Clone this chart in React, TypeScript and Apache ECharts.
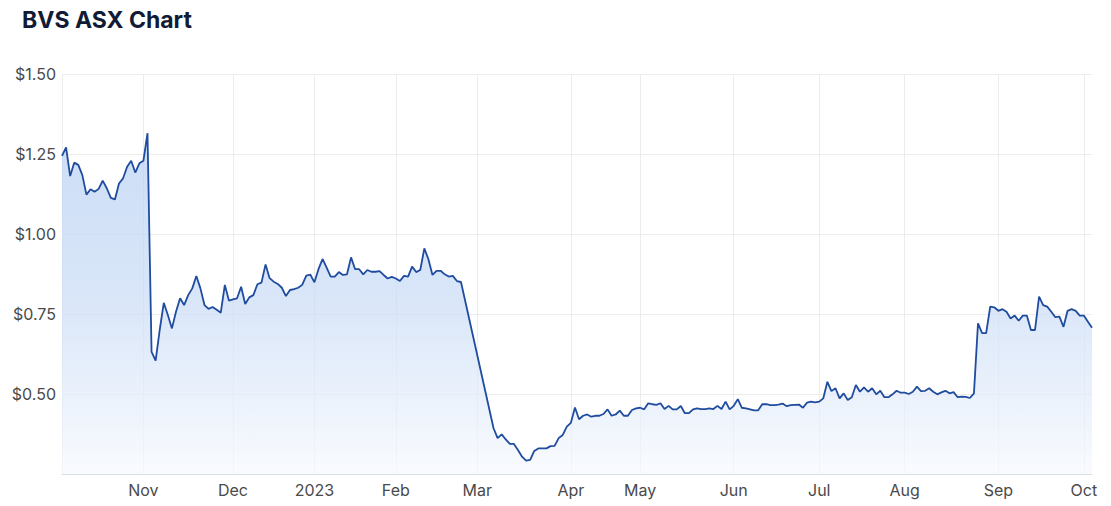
import React, { useEffect, useRef } from "react";
import * as echarts from "echarts";

// Trading days (ASX) shown on the ordinal x axis
const tradingDays: [string, number[]][] = [
  ["2022-10", [4, 5, 6, 7, 10, 11, 12, 13, 14, 17, 18, 19, 20, 21, 24, 25, 26, 27, 28, 31]],
  ["2022-11", [1, 2, 3, 4, 7, 8, 9, 10, 11, 14, 15, 16, 17, 18, 21, 22, 23, 24, 25, 28, 29, 30]],
  ["2022-12", [1, 2, 5, 6, 7, 8, 9, 12, 13, 14, 15, 16, 19, 20, 21, 22, 23, 28, 29, 30]],
  ["2023-01", [3, 4, 5, 6, 9, 10, 11, 12, 13, 16, 17, 18, 19, 20, 23, 24, 25, 27, 30, 31]],
  ["2023-02", [1, 2, 3, 6, 7, 8, 9, 10, 13, 14, 15, 16, 17, 20, 21, 22, 23, 24, 27, 28]],
  ["2023-03", [1, 2, 3, 6, 7, 8, 9, 10, 13, 14, 15, 16, 17, 20, 21, 22, 23, 24, 27, 28, 29, 30, 31]],
  ["2023-04", [3, 4, 5, 6, 11, 12, 13, 14, 17, 18, 19, 20, 21, 24, 26, 27, 28]],
  ["2023-05", [1, 2, 3, 4, 5, 8, 9, 10, 11, 12, 15, 16, 17, 18, 19, 22, 23, 24, 25, 26, 29, 30, 31]],
  ["2023-06", [1, 2, 5, 6, 7, 8, 9, 13, 14, 15, 16, 19, 20, 21, 22, 23, 26, 27, 28, 29, 30]],
  ["2023-07", [3, 4, 5, 6, 7, 10, 11, 12, 13, 14, 17, 18, 19, 20, 21, 24, 25, 26, 27, 28, 31]],
  ["2023-08", [1, 2, 3, 4, 7, 8, 9, 10, 11, 14, 15, 16, 17, 18, 21, 22, 23, 24, 25, 28, 29, 30, 31]],
  ["2023-09", [1, 4, 5, 6, 7, 8, 11, 12, 13, 14, 15, 18, 19, 20, 21, 22, 25, 26, 27, 28, 29]],
  ["2023-10", [2, 3, 4]],
];

// Closing prices (A$), per month; null = trading halt
const oct22 = [1.244, 1.271, 1.181, 1.223, 1.216, 1.184, 1.123, 1.14, 1.132, 1.141, 1.167, 1.143, 1.113, 1.108, 1.158, 1.174, 1.21, 1.229, 1.192, 1.221];
const nov22 = [1.229, 1.315, 0.632, 0.604, 0.7, 0.785, 0.747, 0.705, 0.757, 0.799, 0.778, 0.809, 0.83, 0.869, 0.83, 0.778, 0.766, 0.772, 0.763, 0.754, 0.841, 0.792];
const dec22 = [0.796, 0.799, 0.835, 0.781, 0.802, 0.809, 0.843, 0.848, 0.905, 0.862, 0.851, 0.844, 0.832, 0.806, 0.825, 0.828, 0.832, 0.841, 0.87, 0.873];
const jan23 = [0.849, 0.89, 0.922, 0.895, 0.867, 0.867, 0.881, 0.872, 0.874, 0.927, 0.89, 0.89, 0.874, 0.8875, 0.882, 0.882, 0.884, 0.872, 0.861, 0.866];
const feb23 = [0.861, 0.853, 0.869, 0.867, 0.898, 0.881, 0.8875, 0.955, 0.921, 0.872, 0.885, 0.885, 0.874, 0.867, 0.869, 0.853, 0.85, null, null, null];
const mar23 = [null, null, null, null, 0.393, 0.362, 0.374, 0.358, 0.344, 0.344, 0.325, 0.304, 0.292, 0.294, 0.322, 0.33, 0.33, 0.33, 0.337, 0.338, 0.362, 0.372, 0.398];
const apr23 = [0.41, 0.458, 0.421, 0.432, 0.436, 0.429, 0.432, 0.432, 0.4375, 0.452, 0.432, 0.436, 0.448, 0.432, 0.432, 0.45, 0.455];
const may23 = [0.457, 0.452, 0.471, 0.468, 0.466, 0.471, 0.453, 0.463, 0.452, 0.452, 0.4625, 0.44, 0.44, 0.452, 0.455, 0.453, 0.453, 0.455, 0.453, 0.463, 0.453, 0.476, 0.452];
const jun23 = [0.463, 0.484, 0.457, 0.455, 0.452, 0.449, 0.449, 0.468, 0.468, 0.465, 0.465, 0.467, 0.47, 0.462, 0.465, 0.466, 0.467, 0.457, 0.473, 0.476, 0.474];
const jul23 = [0.476, 0.4865, 0.538, 0.509, 0.518, 0.4865, 0.502, 0.481, 0.49, 0.528, 0.507, 0.521, 0.507, 0.518, 0.499, 0.51, 0.49, 0.49, 0.499, 0.51, 0.504];
const aug23 = [0.504, 0.5, 0.507, 0.523, 0.509, 0.51, 0.518, 0.507, 0.499, 0.505, 0.51, 0.502, 0.506, 0.49, 0.492, 0.491, 0.4875, 0.502, 0.721, 0.69, 0.69, 0.773, 0.771];
const sep23 = [0.76, 0.765, 0.757, 0.736, 0.745, 0.729, 0.745, 0.745, 0.7, 0.7, 0.804, 0.778, 0.773, 0.757, 0.74, 0.742, 0.71, 0.76, 0.765, 0.76, 0.745];
const oct23 = [0.745, 0.726, 0.707];

const yTicks = [0.25, 0.5, 0.75, 1.0, 1.25, 1.5];
const monthNames = ["Jan", "Feb", "Mar", "Apr", "May", "Jun", "Jul", "Aug", "Sep", "Oct", "Nov", "Dec"];

const categories: string[] = tradingDays.flatMap(([ym, days]) =>
  days.map((d) => `${ym}-${String(d).padStart(2, "0")}`)
);
const prices = [
  ...oct22, ...nov22, ...dec22, ...jan23, ...feb23, ...mar23, ...apr23,
  ...may23, ...jun23, ...jul23, ...aug23, ...sep23, ...oct23,
];

const isMonthStart = (index: number) =>
  index > 0 && categories[index - 1].slice(0, 7) !== categories[index].slice(0, 7);

const FONT = "Inter, 'Noto Sans', sans-serif";

export default function App() {
  const ref = useRef<HTMLDivElement>(null);
  useEffect(() => {
    if (!ref.current) return;
    const chart = echarts.init(ref.current, undefined, { renderer: "svg" });
    chart.setOption({
      animation: false,
      backgroundColor: "#ffffff",
      title: {
        text: "BVS ASX Chart",
        left: 17,
        top: 3,
        textStyle: { fontFamily: FONT, fontSize: 23, fontWeight: 700, color: "#111b36" },
      },
      grid: { left: 62, top: 74, width: 1030, height: 400, containLabel: false },
      xAxis: {
        type: "category",
        data: categories,
        boundaryGap: false,
        axisLine: { show: true, lineStyle: { color: "#d9dde6", width: 1 } },
        axisTick: { show: false },
        axisLabel: {
          interval: (index: number) => isMonthStart(index),
          formatter: (value: string) => {
            const [y, m] = value.split("-");
            return m === "01" ? y : monthNames[Number(m) - 1];
          },
          fontFamily: FONT,
          fontSize: 16,
          color: "#4a4a4a",
          margin: 8,
        },
        splitLine: {
          show: true,
          interval: (index: number) => isMonthStart(index),
          lineStyle: { color: "#ececec", width: 1 },
        },
      },
      yAxis: {
        type: "value",
        min: yTicks[0],
        max: yTicks[yTicks.length - 1],
        interval: 0.25,
        axisLine: { show: true, lineStyle: { color: "#ececec" } },
        axisTick: { show: false },
        axisLabel: {
          formatter: (v: number) => (Math.abs(v - yTicks[0]) < 1e-9 ? "" : "$" + v.toFixed(2)),
          fontFamily: FONT,
          fontSize: 16,
          color: "#4a4a4a",
          margin: 6,
        },
        splitLine: { show: true, lineStyle: { color: "#ececec", width: 1 } },
      },
      series: [
        {
          type: "line",
          data: prices,
          connectNulls: true,
          showSymbol: false,
          symbol: "none",
          lineStyle: { color: "#1f4c9e", width: 1.8 },
          areaStyle: {
            color: new echarts.graphic.LinearGradient(
              0, 133, 0, 474,
              [
                { offset: 0, color: "#b5cff2" },
                { offset: 0.5, color: "#cadcf6" },
                { offset: 1, color: "#f6f9fe" },
              ],
              true
            ),
          },
        },
      ],
    });
    return () => chart.dispose();
  }, []);
  return (
    <div
      ref={ref}
      style={{ position: "absolute", left: 0, top: 0, width: 1111, height: 506 }}
    />
  );
}
